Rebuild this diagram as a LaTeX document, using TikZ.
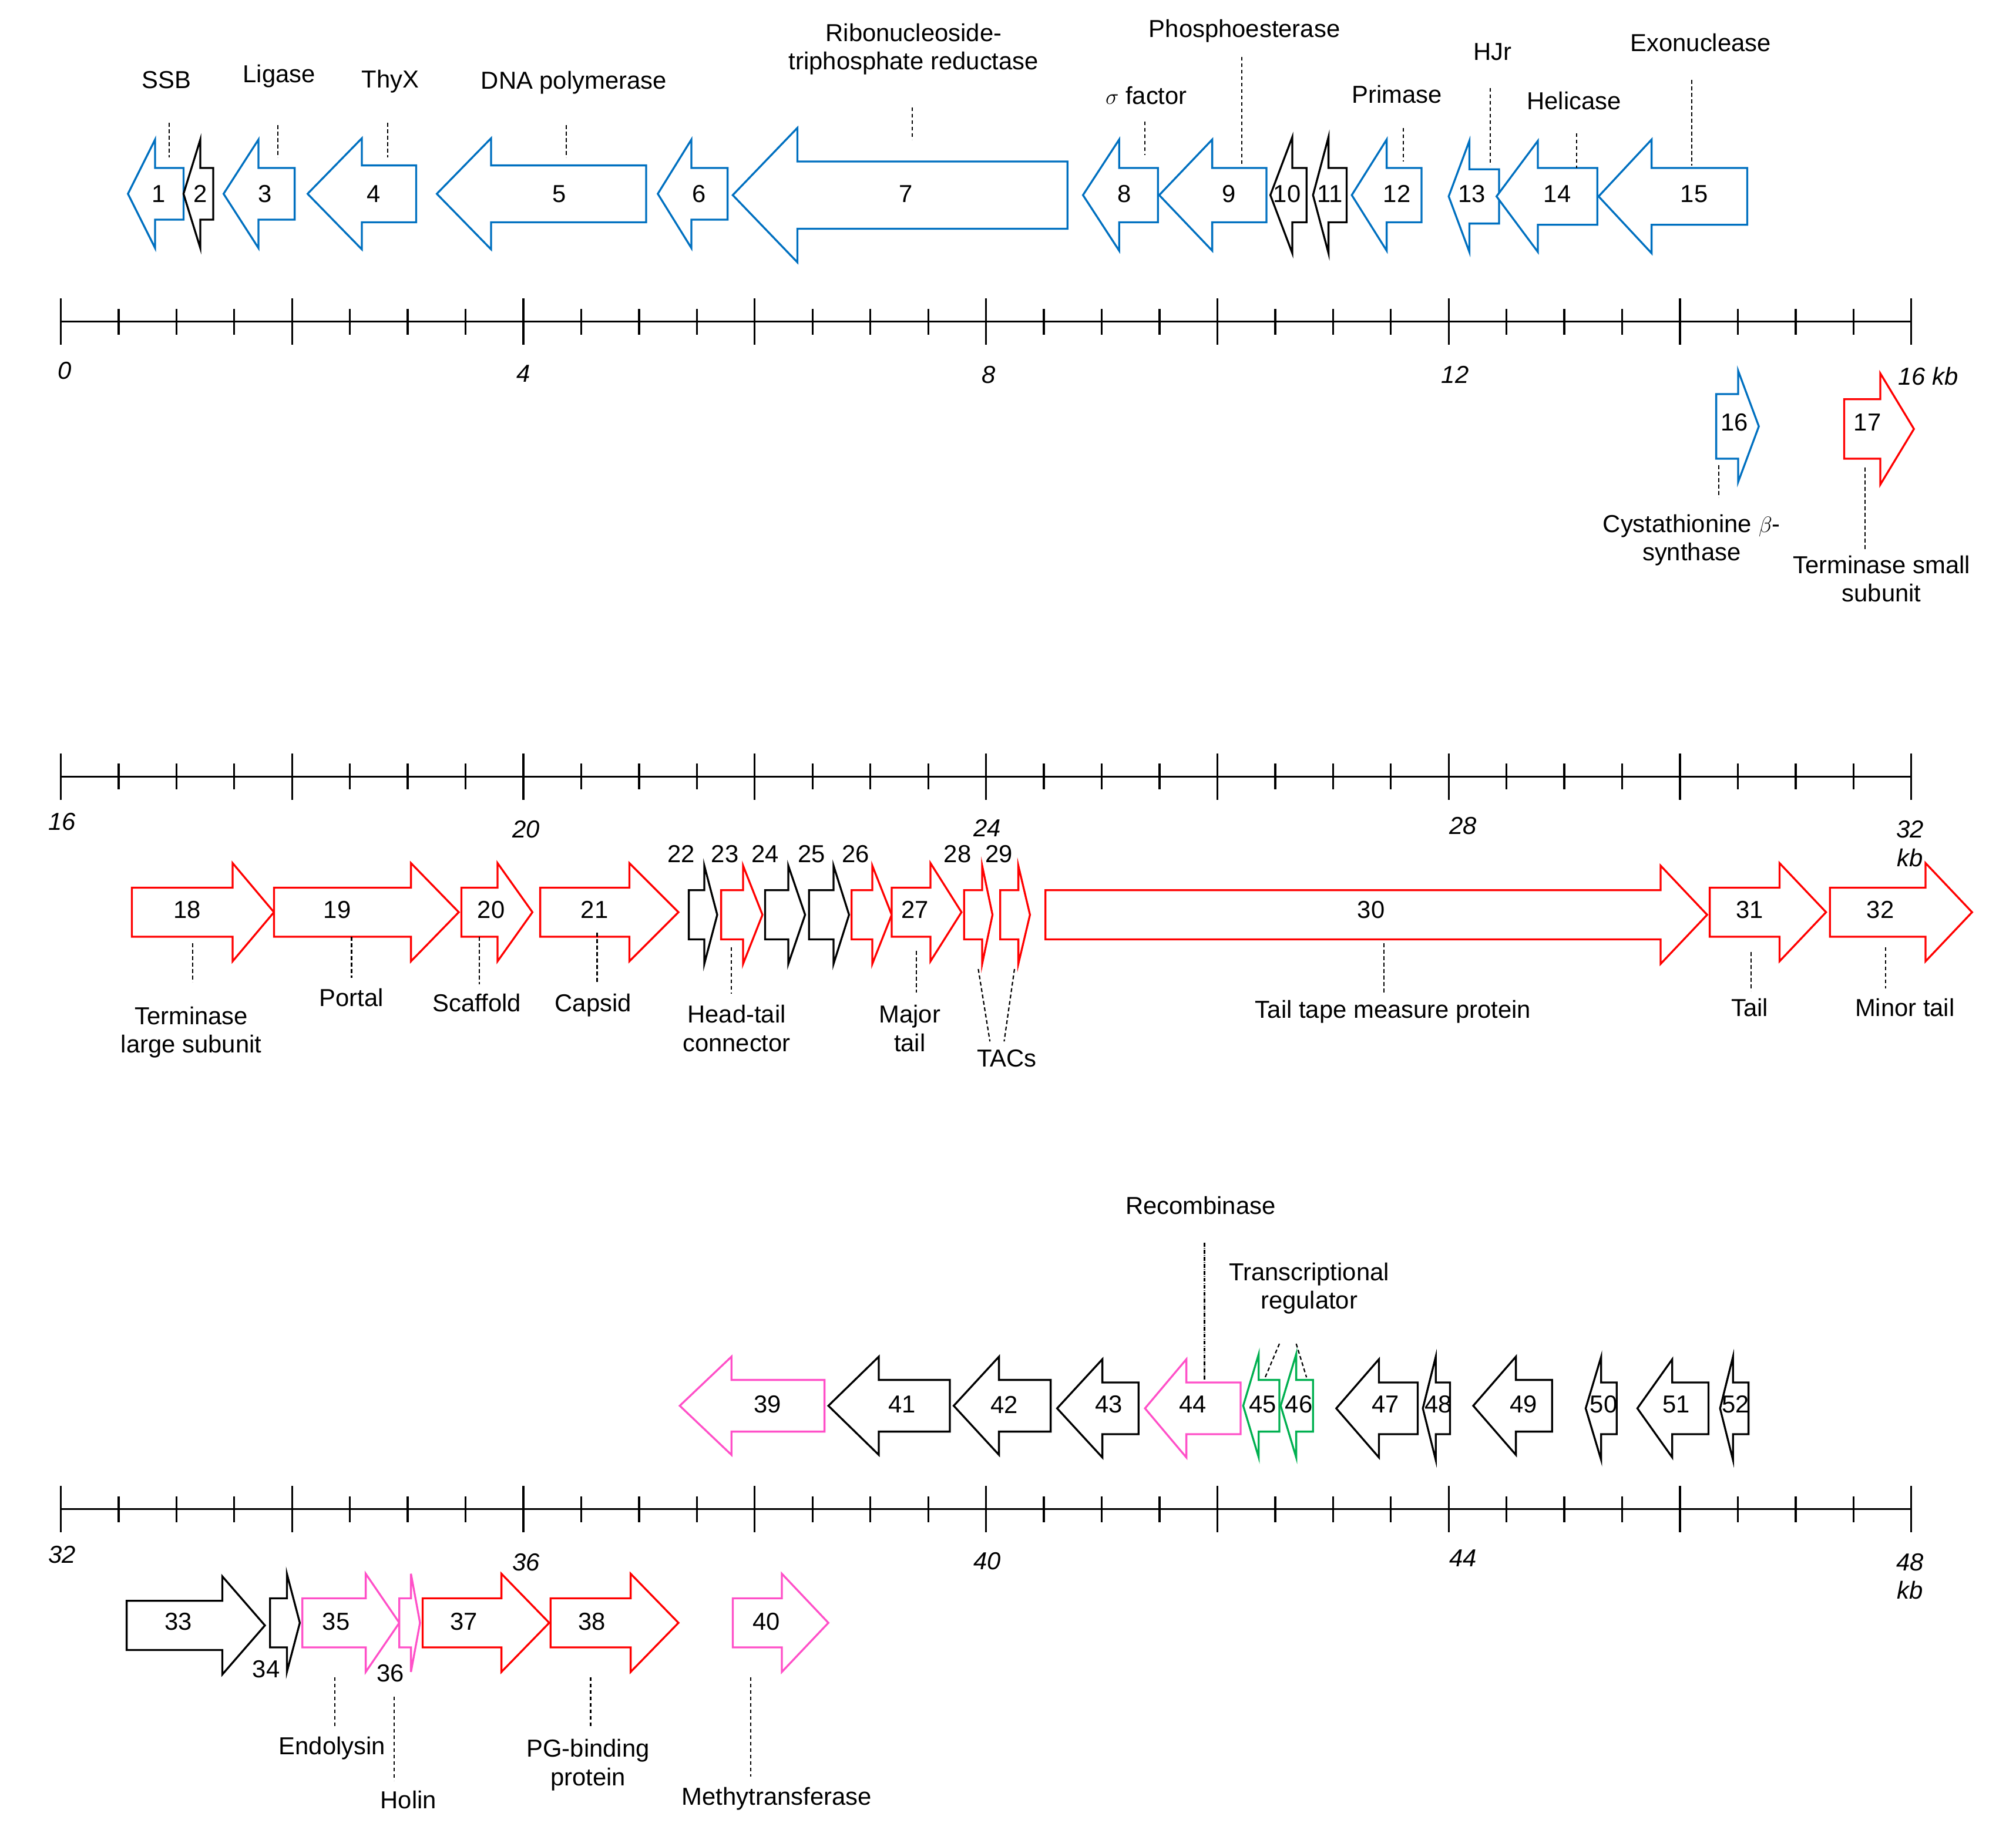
\documentclass[tikz,border=0pt]{standalone}
\usepackage{fontspec}
\setmainfont{Liberation Sans}
\begin{document}
\begin{tikzpicture}[x=1pt,y=-1pt,
  txt/.style={font=\fontsize{19}{22}\selectfont,inner sep=0pt,align=center},
  num/.style={font=\fontsize{19}{22}\selectfont,inner sep=0pt},
  kb/.style={font=\fontsize{19}{22}\selectfont\itshape,inner sep=0pt,align=center},
  lead/.style={densely dashed,line width=1pt},
  gene/.style={line width=1.5pt,fill=white},
  blu/.style={gene,draw={rgb,255:red,0;green,112;blue,192}},
  rd/.style={gene,draw={rgb,255:red,255;green,0;blue,0}},
  pk/.style={gene,draw={rgb,255:red,255;green,80;blue,200}},
  gr/.style={gene,draw={rgb,255:red,0;green,176;blue,80}},
  bk/.style={gene,draw=black},
  ax/.style={line width=1.5pt}]
\useasboundingbox (0,0) rectangle (1560,1424);
% left arrow: style, tip, base, end, cy, bodyhalf, headhalf
\newcommand\larr[7]{\draw[#1] (#2,#5) -- (#3,{#5-#7}) -- (#3,{#5-#6}) -- (#4,{#5-#6}) -- (#4,{#5+#6}) -- (#3,{#5+#6}) -- (#3,{#5+#7}) -- cycle;}
% right arrow: style, start, base, tip, cy, bodyhalf, headhalf
\newcommand\rarr[7]{\draw[#1] (#4,#5) -- (#3,{#5-#7}) -- (#3,{#5-#6}) -- (#2,{#5-#6}) -- (#2,{#5+#6}) -- (#3,{#5+#6}) -- (#3,{#5+#7}) -- cycle;}
\newcommand\axis[2]{%
  \draw[ax] (47,#1) -- (1479,#1);
  \foreach \i in {0,...,32}{
    \pgfmathsetmacro\xx{47+\i*44.75}
    \pgfmathtruncatemacro\mj{mod(\i,4)==0 ? 1 : 0}
    \ifnum\mj=1 \draw[ax] (\xx,{#1-18}) -- (\xx,{#1+18}); \else \draw[ax] (\xx,{#1-10}) -- (\xx,{#1+10}); \fi}}
% ===== Row 1 =====
\axis{249}{}
\node[kb] (k0) at (50,287) {0};
\node[kb] (k4) at (405,289) {4};
\node[kb] (k8) at (765,290) {8};
\node[kb] (k12) at (1126,290) {12};
\node[kb] (k16) at (1492,291) {16 kb};
\larr{blu}{99}{120}{142}{150}{20}{42}
\larr{bk}{142}{155}{165}{150}{20}{42}
\larr{blu}{173}{200}{228}{150}{20}{42}
\larr{blu}{238}{280}{322}{150}{22}{43}
\larr{blu}{338}{380}{500}{150}{22}{43}
\larr{blu}{509}{535}{563}{150}{20}{42}
\larr{blu}{567}{617}{826}{151}{26}{52}
\larr{blu}{838}{866}{896}{151}{21}{43}
\larr{blu}{897}{938}{980}{151}{21}{43}
\larr{bk}{983}{1000}{1011}{151}{21}{45}
\larr{bk}{1016}{1028}{1042}{151}{21}{45}
\larr{blu}{1046}{1073}{1100}{151}{21}{43}
\larr{blu}{1121}{1137}{1160}{152}{21}{43}
\larr{blu}{1158}{1190}{1236}{152}{22}{43}
\larr{blu}{1237}{1278}{1352}{152}{22}{44}
\foreach \n/\x in {1/123,2/155,3/205,4/289,5/433,6/541,7/701,8/870,9/951,10/996,11/1029,12/1081,13/1139,14/1205,15/1311}
  \node[num] (g\n) at (\x,150) {\n};
\node[txt] (lSSB) at (129,62) {SSB};
\node[txt] (lLig) at (216,59) {Ligase};
\node[txt] (lThy) at (302,63) {ThyX};
\node[txt] (lDNA) at (444,64) {DNA polymerase};
\node[txt] (lRib) at (707,38) {Ribonucleoside-\\triphosphate reductase};
\node[txt] (lSig) at (887,74) {$\sigma$ factor};
\node[txt] (lPho) at (963,24) {Phosphoesterase};
\node[txt] (lPri) at (1081,73) {Primase};
\node[txt] (lHJr) at (1155,40) {HJr};
\node[txt] (lHel) at (1218,78) {Helicase};
\node[txt] (lExo) at (1316,33) {Exonuclease};
\foreach \x/\a/\b in {131/95/122,215/97/122,300/95/122,438/97/122,706/83/108,886/94/120,961/44/128,1086/99/125,1153/68/128,1220/103/130,1309/62/128}
  \draw[lead] (\x,\a) -- (\x,\b);
\rarr{blu}{1328}{1345}{1361}{330}{25}{43}
\rarr{rd}{1427}{1455}{1481}{332}{23}{43}
\node[num] (g16) at (1342,327) {16};
\node[num] (g17) at (1445,327) {17};
\node[txt] (lCys) at (1309,418) {Cystathionine $\beta$-\\synthase};
\node[txt] (lTS) at (1456,448) {Terminase small\\subunit};
\draw[lead] (1330,360) -- (1330,385);
\draw[lead] (1443,362) -- (1443,425);
% ===== Row 2 =====
\axis{601}{}
\node[kb] at (48,636) {16};
\node[kb] at (407,642) {20};
\node[kb] at (764,641) {24};
\node[kb] at (1132,639) {28};
\node[kb] at (1478,653) {32\\kb};
\rarr{rd}{102}{180}{212}{706}{19}{38}
\rarr{rd}{212}{318}{355}{706}{19}{38}
\rarr{rd}{357}{385}{412}{706}{19}{38}
\rarr{rd}{418}{487}{525}{706}{19}{38}
\rarr{bk}{533}{545}{555}{708}{19}{38}
\rarr{rd}{558}{575}{590}{708}{19}{38}
\rarr{bk}{592}{610}{623}{708}{19}{38}
\rarr{bk}{626}{645}{657}{708}{19}{38}
\rarr{rd}{659}{675}{690}{708}{19}{38}
\rarr{rd}{690}{720}{744}{706}{19}{38}
\rarr{rd}{746}{760}{768}{708}{19}{38}
\rarr{rd}{774}{788}{797}{708}{19}{38}
\rarr{rd}{809}{1285}{1321}{708}{19}{38}
\rarr{rd}{1323}{1377}{1413}{706}{19}{38}
\rarr{rd}{1416}{1490}{1526}{706}{19}{38}
\foreach \n/\x in {18/145,19/261,20/380,21/460,27/708,30/1061,31/1354,32/1455}
  \node[num] (g\n) at (\x,704) {\n};
\foreach \n/\x in {22/527,23/561,24/592,25/628,26/662,28/741,29/773}
  \node[num] (g\n) at (\x,661) {\n};
\node[txt] (lTL) at (148,799) {Terminase\\large subunit};
\node[txt] (lPor) at (272,772) {Portal};
\node[txt] (lSca) at (369,776) {Scaffold};
\node[txt] (lCap) at (459,778) {Capsid};
\node[txt] (lHT) at (570,796) {Head-tail\\connector};
\node[txt] (lMT) at (704,796) {Major\\tail};
\node[txt] (lTAC) at (779,819) {TACs};
\node[txt] (lTTM) at (1078,783) {Tail tape measure protein};
\node[txt] (lTail) at (1354,780) {Tail};
\node[txt] (lMin) at (1474,780) {Minor tail};
\foreach \x/\a/\b in {149/730/760,272/725/757,371/725/762,462/722/760,566/733/769,709/736/768,1071/730/768,1355/737/767,1459/733/765}
  \draw[lead] (\x,\a) -- (\x,\b);
\draw[lead] (757,750) -- (766,806);
\draw[lead] (785,750) -- (777,806);
% ===== Row 3 =====
\axis{1168}{}
\node[kb] at (48,1203) {32};
\node[kb] at (407,1209) {36};
\node[kb] at (764,1208) {40};
\node[kb] at (1132,1206) {44};
\node[kb] at (1478,1220) {48\\kb};
\larr{pk}{526}{566}{638}{1088}{20}{38}
\larr{bk}{641}{680}{735}{1088}{20}{38}
\larr{bk}{738}{773}{813}{1088}{20}{38}
\larr{bk}{818}{853}{881}{1090}{20}{38}
\larr{pk}{886}{918}{960}{1090}{20}{38}
\larr{gr}{962}{974}{990}{1088}{20}{40}
\larr{gr}{991}{1003}{1016}{1088}{20}{40}
\larr{bk}{1034}{1067}{1097}{1090}{20}{38}
\larr{bk}{1101}{1111}{1122}{1090}{20}{40}
\larr{bk}{1140}{1173}{1201}{1088}{20}{38}
\larr{bk}{1227}{1239}{1251}{1090}{20}{40}
\larr{bk}{1267}{1294}{1322}{1090}{20}{38}
\larr{bk}{1331}{1341}{1353}{1090}{20}{40}
\foreach \n/\x in {39/594,41/698,42/777,43/858,44/923,45/977,46/1005,47/1072,48/1113,49/1179,50/1241,51/1297,52/1343}
  \node[num] (g\n) at (\x,1087) {\n};
\node[txt] (lRec) at (929,933) {Recombinase};
\node[txt] (lTR) at (1013,997) {Transcriptional\\regulator};
\draw[densely dashdotted,line width=1pt] (932,962) -- (932,1068);
\draw[lead] (990,1040) -- (979,1066);
\draw[lead] (1003,1040) -- (1011,1066);
\rarr{bk}{98}{172}{205}{1258}{19}{38}
\rarr{bk}{209}{222}{232}{1256}{19}{38}
\rarr{pk}{234}{283}{309}{1256}{19}{38}
\rarr{pk}{309}{318}{325}{1256}{19}{38}
\rarr{rd}{327}{388}{425}{1256}{19}{38}
\rarr{rd}{426}{488}{525}{1256}{19}{38}
\rarr{pk}{567}{605}{641}{1256}{19}{38}
\foreach \n/\x in {33/138,35/260,37/359,38/458,40/593}
  \node[num] (g\n) at (\x,1255) {\n};
\node[num] (g34) at (206,1292) {34};
\node[num] (g36) at (302,1295) {36};
\node[txt] (lEnd) at (257,1353) {Endolysin};
\node[txt] (lHol) at (316,1393) {Holin};
\node[txt] (lPG) at (455,1366) {PG-binding\\protein};
\node[txt] (lMet) at (601,1392) {Methytransferase};
\foreach \x/\a/\b in {259/1298/1337,305/1313/1378,457/1298/1337,581/1298/1375}
  \draw[lead] (\x,\a) -- (\x,\b);
\end{tikzpicture}
\end{document}
